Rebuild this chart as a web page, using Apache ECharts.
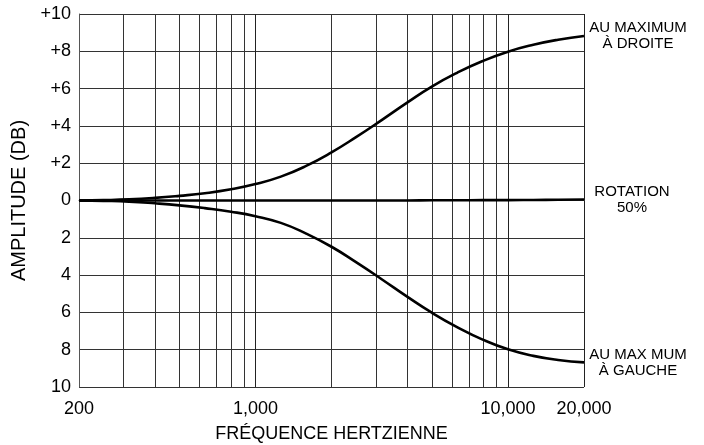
<!DOCTYPE html>
<html>
<head>
<meta charset="utf-8">
<script src="https://cdn.jsdelivr.net/npm/echarts@6/dist/echarts.min.js"></script>
<style>
  html, body { margin: 0; padding: 0; background: #fff; }
  #chart { width: 704px; height: 445px; }
</style>
</head>
<body>
<div id="chart"></div>
<script>
// Frequencies (Hz) at which the three response curves are sampled (tenth-decade steps)
const freqs = [200, 250, 316, 400, 500, 630, 800, 1000, 1260, 1580, 2000, 2510, 3160,
               4000, 5010, 6310, 7940, 10000, 12600, 15800, 20000];

// Amplitude (dB) with the control fully right
const maxRight = [0, 0.02, 0.06, 0.14, 0.25, 0.39, 0.6, 0.88, 1.28, 1.84, 2.58, 3.41, 4.31,
                  5.26, 6.12, 6.86, 7.48, 7.98, 8.35, 8.62, 8.82];

// Amplitude (dB) at 50 % rotation
const rotation50 = [0, 0, 0, 0, 0, 0, 0, 0, 0, 0, 0, 0, 0,
                    0, 0.01, 0.01, 0.02, 0.02, 0.03, 0.04, 0.05];

// Amplitude (dB) with the control fully left
const maxLeft = [0, -0.02, -0.06, -0.15, -0.26, -0.41, -0.6, -0.84, -1.2, -1.76, -2.48, -3.32, -4.22,
                 -5.17, -6.03, -6.8, -7.46, -7.98, -8.33, -8.55, -8.68];

// Intermediate log-grid frequencies (2..9 × each decade)
const minorGridFreqs = [300, 400, 500, 600, 700, 800, 900, 2000, 3000, 4000, 5000, 6000, 7000, 8000, 9000];

// Curve end labels
const labelRight = ['AU MAXIMUM', 'À DROITE'];
const labelMiddle = ['ROTATION', '50%'];
const labelLeft = ['AU MAX MUM', 'À GAUCHE'];

const FONT = '"Liberation Sans", Arial, Helvetica, sans-serif';

function pairs(ys) {
  return freqs.map((f, i) => [f, ys[i]]);
}

function curve(name, ys, lines, offsetX) {
  return {
    name: name,
    type: 'line',
    data: pairs(ys),
    smooth: 0.5,
    showSymbol: false,
    symbol: 'none',
    z: 5,
    lineStyle: { color: '#000', width: 2.6 },
    endLabel: {
      show: true,
      formatter: () => lines.join('\n'),
      color: '#000',
      fontFamily: FONT,
      fontSize: 15,
      lineHeight: 16,
      align: 'center',
      distance: 0,
      offset: [offsetX, 0]
    }
  };
}

const chart = echarts.init(document.getElementById('chart'), null, { renderer: 'canvas' });

chart.setOption({
  animation: false,
  backgroundColor: '#fff',
  grid: {
    left: 79, right: 120, top: 14, bottom: 58,
    containLabel: false,
    outerBoundsMode: 'none'
  },
  xAxis: {
    type: 'log',
    logBase: 10,
    min: 200,
    max: 20000,
    name: 'FRÉQUENCE HERTZIENNE',
    nameLocation: 'middle',
    nameGap: 38,
    nameTextStyle: { color: '#000', fontFamily: FONT, fontSize: 18 },
    axisLine: { show: true, lineStyle: { color: '#555', width: 1 } },
    axisTick: { show: false },
    axisLabel: {
      color: '#000',
      fontFamily: FONT,
      fontSize: 18,
      margin: 13,
      formatter: v => Math.round(v).toLocaleString('en-US')
    },
    splitLine: { show: true, lineStyle: { color: '#222', width: 1 } },
    minorTick: { show: false },
    minorSplitLine: { show: false }
  },
  yAxis: {
    type: 'value',
    min: -10,
    max: 10,
    interval: 2,
    name: 'AMPLITUDE (DB)',
    nameLocation: 'middle',
    nameGap: 50,
    nameTextStyle: { color: '#000', fontFamily: FONT, fontSize: 20 },
    axisLine: { show: true, lineStyle: { color: '#555', width: 1 } },
    axisTick: { show: false },
    axisLabel: {
      color: '#000',
      fontFamily: FONT,
      fontSize: 18,
      margin: 8,
      formatter: v => (v > 0 ? '+' + v : String(Math.abs(v)))
    },
    splitLine: { show: true, lineStyle: { color: '#333', width: 1 } }
  },
  series: [
    {
      name: 'grille',
      type: 'line',
      data: [],
      z: 1,
      silent: true,
      markLine: {
        silent: true,
        symbol: ['none', 'none'],
        label: { show: false },
        lineStyle: { color: '#333', width: 1, type: 'solid' },
        emphasis: { disabled: true },
        data: minorGridFreqs.map(f => ({ xAxis: f }))
      }
    },
    curve('droite', maxRight, labelRight, 54),
    curve('rotation', rotation50, labelMiddle, 48),
    curve('gauche', maxLeft, labelLeft, 54)
  ]
});
</script>
</body>
</html>
